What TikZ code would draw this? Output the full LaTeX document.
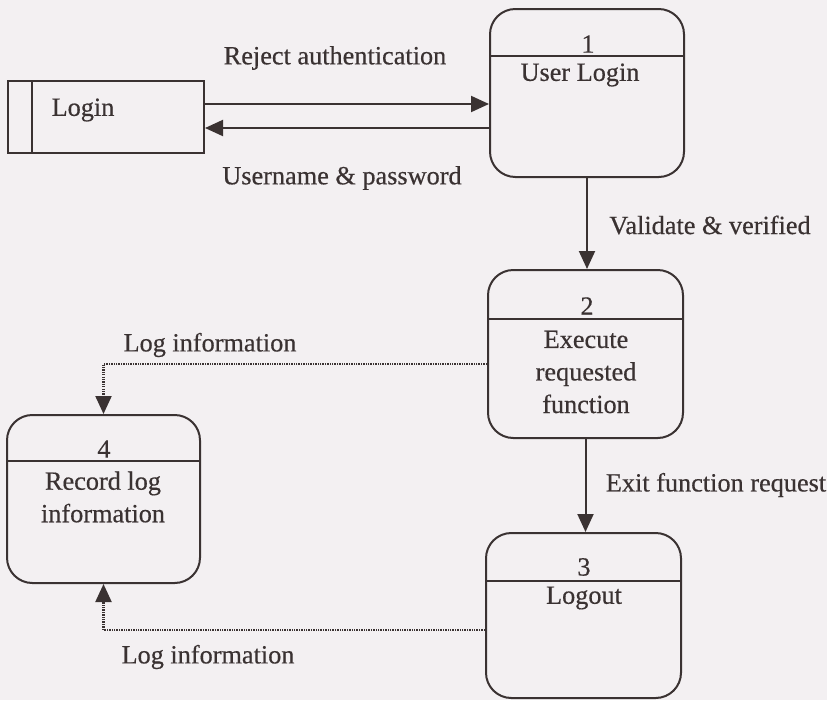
\documentclass[tikz,border=0pt]{standalone}
\usepackage{fontspec}
\setmainfont{Liberation Serif}[FakeBold=0.45]
\usetikzlibrary{arrows.meta,calc}
\definecolor{ink}{RGB}{58,50,50}
\definecolor{paper}{RGB}{243,240,242}
\begin{document}
\begin{tikzpicture}[x=0.75pt,y=-0.75pt,
  every node/.style={text=ink, font=\fontsize{19.7}{24.4}\selectfont, inner sep=0pt},
  proc/.style={draw=ink, line width=1.5pt, rounded corners=19pt},
  store/.style={draw=ink, line width=1.5pt},
  divider/.style={draw=ink, line width=1.5pt},
  flow/.style={draw=ink, line width=1.5pt, -{Triangle[length=13.5pt,width=12pt]}},
  logflow/.style={draw=ink, line width=1.6pt, dash pattern=on 1pt off 0.8pt,
    -{Triangle[length=13.5pt,width=12pt]}},
  lbl/.style={align=center}]

% page
\fill[paper] (0,0) rectangle (827,700);
\useasboundingbox (0,0) rectangle (827,700);

% data store
\node[store, minimum width=147pt, minimum height=54pt] (login) at (106,117) {};
\draw[divider] ([xshift=18.75pt]login.north west) -- ([xshift=18.75pt]login.south west);
\node (logintxt) at (83,110) {Login};

% processes
\node[proc, minimum width=145.5pt, minimum height=126pt] (p1) at (587,93) {};
\draw[divider] ([yshift=-36pt]p1.north west) -- ([yshift=-36pt]p1.north east);
\node (p1n) at (588,44) {1};
\node (p1t) at (580,75) {User Login};

\node[proc, minimum width=146.25pt, minimum height=126pt] (p2) at (585.5,354) {};
\draw[divider] ([yshift=-37.5pt]p2.north west) -- ([yshift=-37.5pt]p2.north east);
\node (p2n) at (587,306) {2};
\node[lbl] (p2t) at (586,372) {Execute\\requested\\function};

\node[proc, minimum width=146.25pt, minimum height=123.75pt] (p3) at (583.5,615.5) {};
\draw[divider] ([yshift=-36.75pt]p3.north west) -- ([yshift=-36.75pt]p3.north east);
\node (p3n) at (584,567) {3};
\node (p3t) at (584,598) {Logout};

\node[proc, minimum width=144.75pt, minimum height=126pt] (p4) at (103.5,499) {};
\draw[divider] ([yshift=-35.25pt]p4.north west) -- ([yshift=-35.25pt]p4.north east);
\node (p4n) at (104,449) {4};
\node[lbl] (p4t) at (103,497) {Record log\\information};

% data flows
\draw[flow] ([yshift=9.75pt]login.east) -- ([yshift=9.75pt]login.east -| p1.west);
\draw[flow] ([yshift=-8.25pt]login.east -| p1.west) -- ([yshift=-8.25pt]login.east);
\draw[flow] (p1.south) -- (p1.south |- p2.north);
\draw[flow] (p2.south) -- (p2.south |- p3.north);
\draw[logflow] ([yshift=-7.5pt]p2.west) -| (p4.north);
\draw[logflow] ([yshift=-10.9pt]p3.west) -| (p4.south);

% flow labels
\node (l1) at (335,58) {Reject authentication};
\node (l2) at (342,178) {Username \& password};
\node (l3) at (710,225) {Validate \& verified};
\node (l4) at (716,485) {Exit function request};
\node (l5) at (210,345) {Log information};
\node (l6) at (208,657) {Log information};
\end{tikzpicture}
\end{document}
